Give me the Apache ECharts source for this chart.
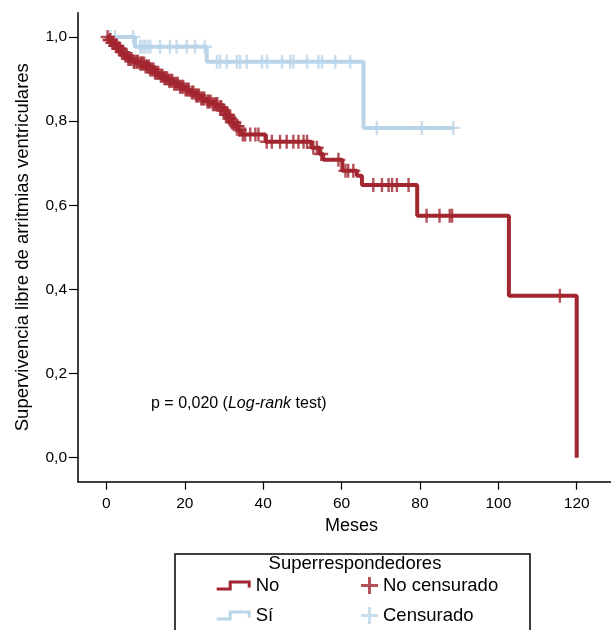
<!DOCTYPE html>
<html>
<head>
<meta charset="utf-8">
<script src="https://cdn.jsdelivr.net/npm/echarts@6/dist/echarts.min.js"></script>
<style>
  html, body { margin: 0; padding: 0; background: #fff; }
  #km { width: 611px; height: 630px; }
</style>
</head>
<body>
<div id="km"></div>
<script>
// Grupo "No" (no superrespondedores): tiempos de evento y supervivencia
var noTime = [0, 0.6, 1.3, 2.0, 2.8, 3.6, 4.5, 5.5, 6.6, 8.2, 9.8, 11.0, 12.2, 13.4, 14.6, 15.8, 17.2, 18.6, 20.0, 21.3, 22.6, 24.0, 25.4, 27.0, 28.6, 29.5, 30.4, 31.2, 32.0, 32.8, 33.6, 34.3, 40.6, 52.3, 54.4, 55.3, 60.2, 63.9, 65.2, 79.3, 102.7, 120]
var noSurv = [1.0, 0.993, 0.986, 0.979, 0.972, 0.964, 0.956, 0.948, 0.941, 0.937, 0.93, 0.923, 0.915, 0.908, 0.902, 0.896, 0.889, 0.882, 0.875, 0.868, 0.861, 0.854, 0.847, 0.84, 0.833, 0.825, 0.815, 0.806, 0.797, 0.788, 0.779, 0.768, 0.751, 0.737, 0.722, 0.708, 0.682, 0.670, 0.648, 0.575, 0.385, 0.0]
// tiempos censurados del grupo "No"
var noCensor = [0.3, 0.8, 1.0, 1.5, 1.8, 2.4, 2.7, 3.2, 3.5, 4.0, 4.3, 4.8, 5.2, 5.6, 6.0, 6.4, 7.0, 7.2, 7.8, 8.0, 8.6, 8.9, 9.2, 9.6, 10.0, 10.4, 10.8, 11.2, 11.6, 12.0, 12.4, 12.8, 13.2, 13.9, 14.3, 14.8, 15.1, 15.5, 16.0, 16.4, 16.8, 17.3, 17.8, 18.2, 18.8, 19.2, 19.6, 20.2, 20.6, 21.0, 21.8, 22.2, 22.9, 23.2, 23.6, 24.2, 24.6, 25.0, 25.8, 26.1, 26.6, 27.2, 27.6, 28.0, 28.3, 29.0, 29.3, 29.9, 30.1, 30.5, 30.8, 31.0, 31.4, 31.6, 32.0, 32.4, 32.7, 33.2, 33.5, 34.0,
  34.8, 35.4, 36.7, 38.0, 38.8, 40.9, 42.2, 44.3, 46.0, 47.7, 49.0, 50.3, 51.2, 52.8, 53.7, 54.8, 59.2, 61.0, 61.7, 63.0, 68.1, 70.3, 72.0, 72.9, 74.1, 77.1, 81.7, 85.0, 87.6, 88.2, 115.7]

// Grupo "Sí" (superrespondedores)
var siTime = [0, 7.3, 25.6, 65.6, 88.8]
var siSurv = [1.0, 0.977, 0.941, 0.784, 0.784]
var siCensor = [1.0, 2.2, 6.8, 8.6, 9.2, 9.8, 10.5, 11.2, 13.7, 16.2, 17.9, 20.5, 22.6, 25.1, 28.2, 29.0, 30.7, 33.3, 34.1, 35.8, 39.7, 41.0, 44.8, 46.9, 47.7, 51.2, 54.1, 55.0, 58.4, 62.2, 69.0, 80.5, 88.5]

// ticks
var xTicks = [0, 20, 40, 60, 80, 100, 120]
var yTicks = [0, 0.2, 0.4, 0.6, 0.8, 1.0]

var rojo = '#A3252F'
var azul = '#BAD4E8'
var fuente = '"Liberation Sans", Arial, sans-serif'

// forma de escalon para la leyenda y cruz para censurados
var iconoEscalon = 'path://M0,7H12V0H34V7H31V3H15V10H0Z'
var iconoCruz = 'path://M5.8,0H8.2V5.8H14V8.2H8.2V14H5.8V8.2H0V5.8H5.8Z'

function pares(t, s) {
    var out = []
    for (var i = 0; i < t.length; i++) out.push([t[i], s[i]])
    return out
}

// valor de la curva escalonada en el tiempo t
function survEn(t, tiempos, surv) {
    var v = surv[0]
    for (var i = 0; i < tiempos.length; i++) {
        if (tiempos[i] <= t) v = surv[i]
    }
    return v
}

function censurados(c, tiempos, surv) {
    return c.map(function (t) { return [t, survEn(t, tiempos, surv)] })
}

var chart = echarts.init(document.getElementById('km'))

var option = {
    animation: false,
    textStyle: { fontFamily: fuente },
    grid: { left: 78, right: 0, top: 12.7, bottom: 148.3 },
    xAxis: {
        type: 'value',
        min: -7.25,
        max: 128.75,
        name: 'Meses',
        nameLocation: 'middle',
        nameGap: 28,
        nameTextStyle: { fontSize: 18, color: '#000', padding: [0, 0, 0, 14] },
        axisLine: { onZero: false, lineStyle: { color: '#000', width: 1.5 } },
        axisTick: { show: true, length: 8, lineStyle: { color: '#000', width: 1.2 }, customValues: xTicks },
        axisLabel: { fontSize: 15.5, color: '#000', margin: 14, customValues: xTicks },
        splitLine: { show: false }
    },
    yAxis: {
        type: 'value',
        min: -0.057,
        max: 1.0578,
        name: 'Supervivencia libre de arritmias ventriculares',
        nameLocation: 'middle',
        nameGap: 46,
        nameTextStyle: { fontSize: 18.5, color: '#000' },
        axisLine: { show: true, onZero: false, lineStyle: { color: '#000', width: 1.5 } },
        axisTick: { show: true, length: 9, lineStyle: { color: '#000', width: 1.2 }, customValues: yTicks },
        axisLabel: {
            fontSize: 15.5, color: '#000', margin: 11, customValues: yTicks,
            formatter: function (v) { return v.toFixed(1).replace('.', ',') }
        },
        splitLine: { show: false }
    },
    legend: [
        {
            data: [{ name: 'No', icon: iconoEscalon }, { name: 'Sí', icon: iconoEscalon }],
            orient: 'vertical',
            left: 216.7,
            top: 576,
            padding: 0,
            itemWidth: 34,
            itemHeight: 10,
            itemGap: 11,
            selectedMode: false,
            textStyle: { fontSize: 18.5, color: '#000' }
        },
        {
            data: [{ name: 'No censurado', icon: iconoCruz }, { name: 'Censurado', icon: iconoCruz }],
            orient: 'vertical',
            left: 361,
            top: 576,
            padding: 0,
            itemWidth: 17,
            itemHeight: 17,
            itemGap: 11,
            selectedMode: false,
            textStyle: { fontSize: 18.5, color: '#000' }
        }
    ],
    graphic: [
        {
            type: 'rect',
            shape: { x: 175, y: 554, width: 355, height: 100 },
            style: { fill: 'none', stroke: '#000', lineWidth: 1.5 }
        },
        {
            type: 'text',
            x: 355, y: 564,
            style: {
                text: 'Superrespondedores', font: '18.5px ' + fuente, fill: '#000',
                align: 'center', verticalAlign: 'middle'
            }
        },
        {
            type: 'text',
            x: 151, y: 403.5,
            style: {
                text: 'p = 0,020 ({it|Log-rank} test)',
                font: '16px ' + fuente, fill: '#000', verticalAlign: 'middle',
                rich: { it: { fontStyle: 'italic', fontSize: 16, fontFamily: fuente, fill: '#000' } }
            }
        }
    ],
    series: [
        {
            name: 'Sí',
            type: 'line',
            step: 'end',
            data: pares(siTime, siSurv),
            symbol: 'none',
            color: azul,
            lineStyle: { color: azul, width: 4 },
            z: 2
        },
        {
            name: 'Censurado',
            type: 'scatter',
            data: censurados(siCensor, siTime, siSurv),
            symbol: iconoCruz,
            symbolSize: 14,
            itemStyle: { color: azul },
            color: azul,
            z: 3
        },
        {
            name: 'No',
            type: 'line',
            step: 'end',
            data: pares(noTime, noSurv),
            symbol: 'none',
            color: rojo,
            lineStyle: { color: rojo, width: 4 },
            z: 4
        },
        {
            name: 'No censurado',
            type: 'scatter',
            data: censurados(noCensor, noTime, noSurv),
            symbol: iconoCruz,
            symbolSize: 14,
            itemStyle: { color: rojo },
            color: rojo,
            z: 5
        }
    ]
}

chart.setOption(option)
window.addEventListener('resize', chart.resize)
</script>
</body>
</html>
